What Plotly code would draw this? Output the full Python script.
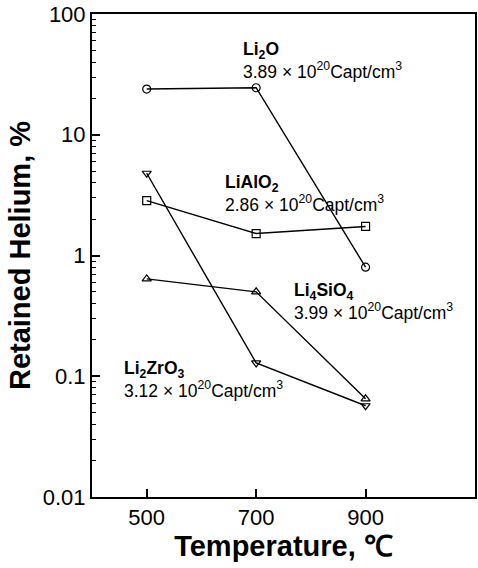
import math
import plotly.graph_objects as go

temps = [500, 700, 900]
li2o = [23.9, 24.5, 0.80]
lialo2 = [2.85, 1.52, 1.74]
li2zro3 = [4.8, 0.129, 0.057]
li4sio4 = [0.64, 0.50, 0.065]

series_names = ["Li2O", "LiAlO2", "Li2ZrO3", "Li4SiO4"]
series_symbols = ["circle-open", "square-open", "triangle-down-open", "triangle-up-open"]
series_values = [li2o, lialo2, li2zro3, li4sio4]

label_names = ["Li<sub>2</sub>O", "LiAlO<sub>2</sub>", "Li<sub>4</sub>SiO<sub>4</sub>", "Li<sub>2</sub>ZrO<sub>3</sub>"]
label_conc = ["3.89", "2.86", "3.99", "3.12"]
label_x = [672, 640, 765, 454]
label_y = [64, 5.1, 0.65, 0.148]

ytick_vals = [0.01, 0.1, 1, 10, 100]
ytick_text = ["0.01", "0.1", "1", "10", "100"]
xtick_vals = [500, 700, 900]

FONT = "Liberation Sans, Arial, sans-serif"

fig = go.Figure()
for name, sym, vals in zip(series_names, series_symbols, series_values):
    fig.add_trace(go.Scatter(
        x=temps, y=vals, mode="lines+markers", name=name,
        line=dict(color="black", width=1.4),
        marker=dict(symbol=sym, size=8, color="black", line=dict(color="black", width=1.2)),
        showlegend=False,
    ))

for nm, cc, lx, ly in zip(label_names, label_conc, label_x, label_y):
    fig.add_annotation(
        x=lx, y=math.log10(ly), xref="x", yref="y", yanchor="top", xanchor="left",
        text=f"<b>{nm}</b><br>{cc} × 10<sup>20</sup>Capt/cm<sup>3</sup>",
        showarrow=False, align="left",
        font=dict(family=FONT, size=17.5, color="black"),
    )

minor_vals = []
for dec in [0.01, 0.1, 1, 10]:
    for k in range(2, 10):
        minor_vals.append(dec * k)

fig.update_layout(
    width=478, height=568, autosize=False,
    margin=dict(l=92, r=1, t=14, b=71),
    paper_bgcolor="white", plot_bgcolor="white",
    font=dict(family=FONT, color="black"),
    xaxis=dict(
        range=[400, 1100], tickvals=xtick_vals, ticks="inside", ticklen=8, tickwidth=1.5,
        tickcolor="black", showline=True, linecolor="black", linewidth=2, mirror=True,
        showgrid=False, zeroline=False, tickfont=dict(size=22, family=FONT),
        title=dict(text="<b>Temperature, ℃</b>", font=dict(size=29, family=FONT), standoff=2),
    ),
    yaxis=dict(
        type="log", range=[-2, 2], tickvals=ytick_vals, ticktext=ytick_text,
        ticks="inside", ticklen=8, tickwidth=1.5, tickcolor="black",
        showline=True, linecolor="black", linewidth=2, mirror=True,
        showgrid=False, zeroline=False, tickfont=dict(size=22, family=FONT),
        minor=dict(tickvals=minor_vals, ticks="inside", ticklen=4, tickwidth=1, tickcolor="black", showgrid=False),
        title=dict(text="<b>Retained Helium, %</b>", font=dict(size=29, family=FONT), standoff=4),
    ),
)

fig.write_html("out.html", config={"displayModeBar": False},
               post_script="document.body.style.margin='0';")
